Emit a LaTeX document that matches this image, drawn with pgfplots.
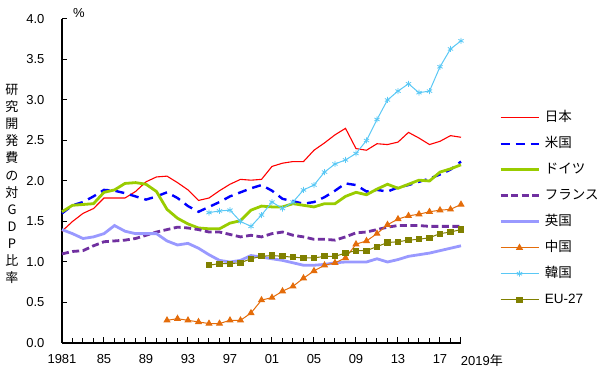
\documentclass[border=0pt]{standalone}
\usepackage{fontspec}
\setmainfont{Liberation Sans}
\newfontfamily\jp{Noto Sans CJK JP}
\usepackage{pgfplots}
\pgfplotsset{compat=1.18}
\definecolor{cJP}{RGB}{255,0,0}
\definecolor{cUS}{RGB}{0,0,255}
\definecolor{cDE}{RGB}{153,204,0}
\definecolor{cFR}{RGB}{112,48,160}
\definecolor{cUK}{RGB}{153,153,255}
\definecolor{cCN}{RGB}{228,108,10}
\definecolor{cKR}{RGB}{90,200,245}
\definecolor{cEU}{RGB}{128,128,0}
\begin{document}
\begin{tikzpicture}
\begin{axis}[
  scale only axis, width=399pt, height=324pt,
  at={(0pt,0pt)}, anchor=south west,
  xmin=1981, xmax=2019, ymin=0, ymax=4,
  axis x line=bottom, axis y line=left,
  axis line style={-, line width=1.2pt, black},
  tick align=inside,
  major tick length=5.5pt, minor tick length=5pt,
  every tick/.style={black, line width=1pt},
  xtick={1981,1985,1989,1993,1997,2001,2005,2009,2013,2017,2019},
  xticklabels={1981,85,89,93,97,01,05,09,13,17,\makebox[0pt][l]{2019{\jp 年}}},
  minor xtick={1982,1983,...,2018},
  ytick={0,0.5,...,4},
  /pgf/number format/assume math mode=true,
  ticklabel style={font=\fontsize{13}{15}\selectfont},
  yticklabel style={/pgf/number format/fixed,/pgf/number format/fixed zerofill,/pgf/number format/precision=1, xshift=-14pt},
  xticklabel style={yshift=-8pt},
  clip=false,
  legend cell align=left,
  every axis plot/.append style={legend image code/.code={\draw[mark repeat=2,mark phase=2,##1] plot coordinates {(0pt,0pt) (19pt,0pt) (38pt,0pt)};}},
  legend style={draw=none, fill=none, inner sep=0pt, at={(1.095,0.719)}, anchor=north west,
    font=\jp\fontsize{13.5}{15}\selectfont, row sep=11pt,
    nodes={inner sep=1pt, text height=10pt, text depth=3pt},
    /tikz/every even column/.append style={column sep=0pt},
    /tikz/every odd column/.append style={column sep=4pt}},
]
\addplot[cJP, line width=1.1pt, no markers] coordinates {
(1981,1.38)(1982,1.50)(1983,1.60)(1984,1.66)(1985,1.79)(1986,1.79)(1987,1.79)(1988,1.87)(1989,1.99)(1990,2.05)
(1991,2.06)(1992,1.98)(1993,1.89)(1994,1.76)(1995,1.79)(1996,1.88)(1997,1.96)(1998,2.02)(1999,2.01)(2000,2.02)
(2001,2.18)(2002,2.22)(2003,2.24)(2004,2.24)(2005,2.38)(2006,2.47)(2007,2.57)(2008,2.65)(2009,2.40)(2010,2.38)
(2011,2.46)(2012,2.45)(2013,2.48)(2014,2.60)(2015,2.53)(2016,2.45)(2017,2.49)(2018,2.56)(2019,2.54)};
\addlegendentry{日本}
\addplot[cUS, line width=2.4pt, no markers, dash pattern=on 9pt off 6pt] coordinates {
(1981,1.60)(1982,1.70)(1983,1.74)(1984,1.81)(1985,1.89)(1986,1.88)(1987,1.85)(1988,1.81)(1989,1.77)(1990,1.81)
(1991,1.86)(1992,1.79)(1993,1.69)(1994,1.62)(1995,1.68)(1996,1.74)(1997,1.81)(1998,1.86)(1999,1.91)(2000,1.95)
(2001,1.88)(2002,1.78)(2003,1.75)(2004,1.72)(2005,1.74)(2006,1.80)(2007,1.88)(2008,1.97)(2009,1.95)(2010,1.87)
(2011,1.89)(2012,1.87)(2013,1.92)(2014,1.95)(2015,1.99)(2016,2.03)(2017,2.08)(2018,2.14)(2019,2.24)};
\addlegendentry{米国}
\addplot[cDE, line width=2.8pt, no markers] coordinates {
(1981,1.62)(1982,1.70)(1983,1.71)(1984,1.72)(1985,1.86)(1986,1.89)(1987,1.97)(1988,1.98)(1989,1.96)(1990,1.87)
(1991,1.65)(1992,1.54)(1993,1.47)(1994,1.42)(1995,1.41)(1996,1.41)(1997,1.48)(1998,1.51)(1999,1.64)(2000,1.69)
(2001,1.68)(2002,1.68)(2003,1.72)(2004,1.70)(2005,1.68)(2006,1.72)(2007,1.72)(2008,1.81)(2009,1.86)(2010,1.83)
(2011,1.90)(2012,1.96)(2013,1.91)(2014,1.96)(2015,2.01)(2016,2.00)(2017,2.11)(2018,2.15)(2019,2.20)};
\addlegendentry{ドイツ}
\addplot[cFR, line width=2.8pt, no markers, dash pattern=on 7pt off 3.5pt] coordinates {
(1981,1.10)(1982,1.13)(1983,1.14)(1984,1.20)(1985,1.25)(1986,1.26)(1987,1.27)(1988,1.29)(1989,1.33)(1990,1.37)
(1991,1.40)(1992,1.43)(1993,1.42)(1994,1.40)(1995,1.37)(1996,1.37)(1997,1.34)(1998,1.31)(1999,1.33)(2000,1.31)
(2001,1.35)(2002,1.37)(2003,1.33)(2004,1.31)(2005,1.28)(2006,1.28)(2007,1.27)(2008,1.31)(2009,1.36)(2010,1.37)
(2011,1.40)(2012,1.43)(2013,1.45)(2014,1.45)(2015,1.45)(2016,1.44)(2017,1.44)(2018,1.44)(2019,1.44)};
\addlegendentry{フランス}
\addplot[cUK, line width=2.8pt, no markers] coordinates {
(1981,1.40)(1982,1.35)(1983,1.29)(1984,1.31)(1985,1.35)(1986,1.45)(1987,1.38)(1988,1.35)(1989,1.35)(1990,1.35)
(1991,1.26)(1992,1.21)(1993,1.23)(1994,1.17)(1995,1.09)(1996,1.02)(1997,1.00)(1998,1.02)(1999,1.08)(2000,1.06)
(2001,1.04)(2002,1.02)(2003,0.99)(2004,0.96)(2005,0.96)(2006,0.97)(2007,0.99)(2008,1.00)(2009,1.00)(2010,1.00)
(2011,1.04)(2012,1.00)(2013,1.03)(2014,1.07)(2015,1.09)(2016,1.11)(2017,1.14)(2018,1.17)(2019,1.20)};
\addlegendentry{英国}
\addplot[cCN, line width=1pt, mark=triangle*, mark size=3.2pt, mark options={solid}] coordinates {
(1991,0.28)(1992,0.30)(1993,0.28)(1994,0.26)(1995,0.24)(1996,0.24)(1997,0.28)(1998,0.28)(1999,0.37)(2000,0.53)
(2001,0.56)(2002,0.64)(2003,0.70)(2004,0.80)(2005,0.89)(2006,0.96)(2007,0.99)(2008,1.05)(2009,1.22)(2010,1.26)
(2011,1.35)(2012,1.46)(2013,1.53)(2014,1.57)(2015,1.59)(2016,1.62)(2017,1.64)(2018,1.65)(2019,1.71)};
\addlegendentry{中国}
\addplot[cKR, line width=1pt, mark=asterisk, mark size=3pt, mark options={solid, line width=0.8pt}] coordinates {
(1995,1.61)(1996,1.63)(1997,1.64)(1998,1.50)(1999,1.44)(2000,1.58)(2001,1.74)(2002,1.66)(2003,1.74)(2004,1.89)
(2005,1.95)(2006,2.11)(2007,2.21)(2008,2.26)(2009,2.34)(2010,2.50)(2011,2.76)(2012,3.00)(2013,3.11)(2014,3.20)
(2015,3.09)(2016,3.11)(2017,3.41)(2018,3.63)(2019,3.73)};
\addlegendentry{韓国}
\addplot[cEU, line width=1pt, mark=square*, mark size=2.6pt, mark options={solid}] coordinates {
(1995,0.96)(1996,0.98)(1997,0.98)(1998,0.99)(1999,1.04)(2000,1.07)(2001,1.08)(2002,1.07)(2003,1.06)(2004,1.05)
(2005,1.05)(2006,1.07)(2007,1.07)(2008,1.11)(2009,1.14)(2010,1.14)(2011,1.19)(2012,1.24)(2013,1.25)(2014,1.27)
(2015,1.28)(2016,1.30)(2017,1.35)(2018,1.37)(2019,1.40)};
\addlegendentry{\rmfamily EU-27}
\end{axis}
\node[font=\fontsize{13}{15}\selectfont] at (17pt,330pt) {\%};
\node[align=center, font=\jp\fontsize{13}{17.1}\selectfont] at (-50pt,159pt) {研\\究\\開\\発\\費\\の\\対\\G\\D\\P\\比\\率};
\pgfresetboundingbox
\path[use as bounding box] (-62pt,-34pt) rectangle (538pt,343pt);
\end{tikzpicture}
\end{document}
